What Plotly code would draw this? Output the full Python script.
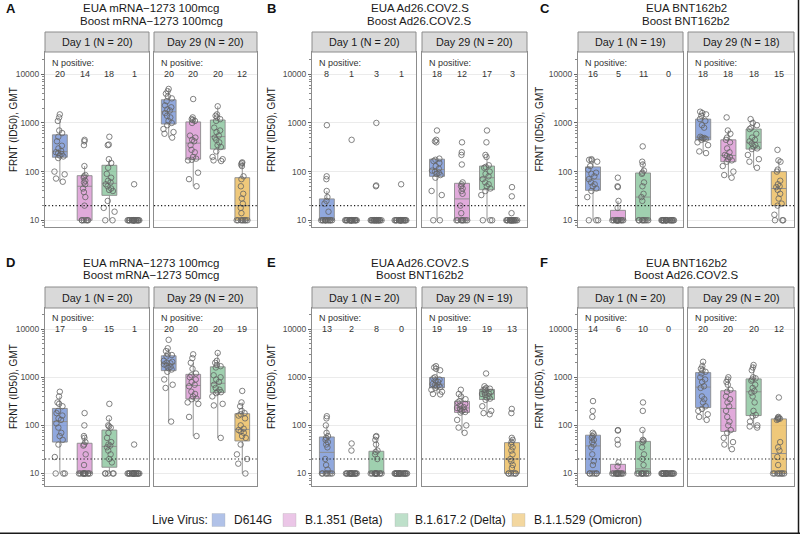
import plotly.graph_objects as go

# titers, one list of 4 (virus order) per facet
viruses = ["D614G", "B.1.351 (Beta)", "B.1.617.2 (Delta)", "B.1.1.529 (Omicron)"]
virus_fill = ["rgba(70,110,200,0.6)", "rgba(200,100,190,0.55)",
              "rgba(80,170,110,0.55)", "rgba(230,170,50,0.65)"]
legend_fill = ["rgba(70,110,200,0.42)", "rgba(200,100,190,0.37)",
               "rgba(80,170,110,0.37)", "rgba(230,170,50,0.47)"]

panel_letters = ["A", "B", "C", "D", "E", "F"]
eua_titles = ["EUA mRNA−1273 100mcg", "EUA Ad26.COV2.S", "EUA BNT162b2",
              "EUA mRNA−1273 100mcg", "EUA Ad26.COV2.S", "EUA BNT162b2"]
boost_titles = ["Boost mRNA−1273 100mcg", "Boost Ad26.COV2.S", "Boost BNT162b2",
                "Boost mRNA−1273 50mcg", "Boost BNT162b2", "Boost Ad26.COV2.S"]
n_day1 = [20, 20, 19, 20, 20, 20]
n_day29 = [20, 20, 18, 20, 19, 20]
npos_day1 = [[20, 14, 18, 1], [8, 1, 3, 1], [16, 5, 11, 0],
             [17, 9, 15, 1], [13, 2, 8, 0], [14, 6, 10, 0]]
npos_day29 = [[20, 20, 20, 12], [18, 12, 17, 3], [18, 18, 18, 15],
              [20, 20, 20, 19], [19, 19, 19, 13], [20, 20, 20, 12]]

a_day1 = [
    [62, 72, 88, 100, 190, 205, 215, 230, 240, 250, 265, 300, 340, 420, 520, 620, 700, 1100, 1300, 1500],
    [10, 10, 10, 10, 10, 10, 20, 30, 38, 45, 55, 60, 65, 75, 80, 85, 130, 350, 420, 450],
    [10, 10, 15, 18, 25, 40, 42, 45, 50, 55, 60, 65, 75, 90, 120, 150, 180, 350, 360, 520],
    [10, 10, 10, 10, 10, 10, 10, 10, 10, 10, 10, 10, 10, 10, 10, 10, 10, 10, 10, 55],
]
a_day29 = [
    [500, 600, 650, 750, 900, 1000, 1100, 1300, 1400, 1600, 1800, 1900, 2100, 2300, 2800, 3200, 3500, 4000, 4500, 5000],
    [50, 70, 95, 170, 175, 185, 200, 250, 280, 350, 420, 450, 500, 550, 1000, 1100, 1150, 1200, 1300, 3100],
    [165, 170, 180, 200, 260, 320, 350, 400, 450, 500, 550, 650, 700, 800, 1100, 1200, 1300, 1400, 1500, 2200],
    [10, 10, 10, 10, 10, 10, 10, 10, 14, 18, 22, 28, 35, 50, 70, 80, 130, 140, 150, 155],
]
b_day1 = [
    [10, 10, 10, 10, 10, 10, 10, 10, 10, 10, 10, 10, 15, 22, 25, 30, 40, 70, 80, 900],
    [10, 10, 10, 10, 10, 10, 10, 10, 10, 10, 10, 10, 10, 10, 10, 10, 10, 10, 10, 450],
    [10, 10, 10, 10, 10, 10, 10, 10, 10, 10, 10, 10, 10, 10, 10, 10, 10, 50, 52, 1000],
    [10, 10, 10, 10, 10, 10, 10, 10, 10, 10, 10, 10, 10, 10, 10, 10, 10, 10, 10, 55],
]
b_day29 = [
    [10, 10, 33, 40, 75, 85, 90, 95, 100, 105, 115, 130, 150, 165, 175, 185, 400, 420, 450, 700],
    [10, 10, 10, 10, 10, 10, 10, 10, 14, 20, 35, 40, 45, 50, 55, 60, 140, 220, 250, 400],
    [10, 10, 10, 33, 40, 45, 50, 55, 60, 70, 80, 90, 100, 120, 125, 135, 200, 220, 400, 700],
    [10, 10, 10, 10, 10, 10, 10, 10, 10, 10, 10, 10, 10, 10, 10, 10, 10, 14, 31, 48],
]
c_day1 = [
    [10, 10, 10, 30, 40, 45, 50, 55, 60, 70, 80, 90, 95, 110, 130, 160, 170, 175, 180],
    [10, 10, 10, 10, 10, 10, 10, 10, 10, 10, 10, 10, 10, 10, 18, 25, 48, 50, 75],
    [10, 10, 10, 10, 10, 10, 10, 10, 25, 30, 35, 50, 60, 90, 95, 105, 140, 160, 330],
    [10, 10, 10, 10, 10, 10, 10, 10, 10, 10, 10, 10, 10, 10, 10, 10, 10, 10, 10],
]
c_day29 = [
    [240, 260, 350, 400, 450, 470, 480, 490, 500, 520, 800, 900, 1100, 1200, 1400, 1500, 1600, 1700],
    [75, 85, 100, 130, 160, 170, 180, 200, 210, 220, 250, 300, 400, 450, 500, 600, 700, 1300],
    [120, 160, 180, 220, 290, 300, 330, 350, 380, 420, 450, 500, 600, 750, 800, 900, 1000, 1200],
    [10, 10, 10, 13, 20, 22, 28, 35, 42, 48, 50, 55, 65, 100, 110, 160, 170, 280],
]
d_day1 = [
    [10, 10, 10, 22, 40, 50, 60, 70, 90, 110, 130, 140, 160, 180, 200, 250, 280, 300, 400, 500],
    [10, 10, 10, 10, 10, 10, 10, 10, 10, 10, 10, 15, 25, 38, 40, 45, 55, 60, 100, 180],
    [10, 10, 10, 10, 10, 17, 20, 25, 30, 35, 38, 40, 45, 55, 70, 90, 95, 100, 140, 280],
    [10, 10, 10, 10, 10, 10, 10, 10, 10, 10, 10, 10, 10, 10, 10, 10, 10, 10, 10, 40],
]
d_day29 = [
    [120, 600, 700, 900, 1300, 1450, 1550, 1650, 1750, 1850, 1950, 2000, 2100, 2200, 2700, 2900, 3000, 3500, 4000, 6000],
    [60, 150, 280, 300, 350, 360, 400, 450, 500, 650, 700, 800, 900, 1000, 1100, 1200, 1500, 2000, 2500, 3000],
    [55, 260, 280, 400, 470, 490, 500, 550, 600, 700, 800, 900, 1000, 1100, 1600, 1700, 1800, 2000, 2200, 3200],
    [10, 16, 20, 25, 40, 55, 60, 70, 75, 80, 85, 100, 140, 160, 170, 180, 200, 250, 300, 520],
]
e_day1 = [
    [10, 10, 10, 10, 10, 10, 10, 12, 15, 20, 35, 40, 45, 50, 55, 60, 70, 100, 140, 155],
    [10, 10, 10, 10, 10, 10, 10, 10, 10, 10, 10, 10, 10, 10, 10, 10, 10, 10, 30, 42],
    [10, 10, 10, 10, 10, 10, 10, 10, 10, 10, 10, 10, 20, 25, 28, 30, 40, 50, 58, 60],
    [10, 10, 10, 10, 10, 10, 10, 10, 10, 10, 10, 10, 10, 10, 10, 10, 10, 10, 10, 10],
]
e_day29 = [
    [440, 450, 500, 550, 600, 620, 650, 680, 700, 720, 800, 850, 900, 950, 1000, 1400, 1500, 1600, 1700],
    [70, 90, 100, 130, 185, 190, 200, 210, 220, 230, 240, 260, 280, 300, 320, 350, 400, 450, 550],
    [170, 180, 200, 250, 340, 360, 380, 400, 430, 450, 460, 480, 500, 550, 560, 580, 600, 650, 1200],
    [10, 10, 10, 10, 10, 10, 13, 15, 18, 20, 25, 30, 35, 40, 45, 50, 55, 180, 220],
]
f_day1 = [
    [10, 10, 10, 10, 10, 10, 15, 18, 25, 35, 40, 45, 50, 55, 60, 65, 70, 150, 200, 320],
    [10, 10, 10, 10, 10, 10, 10, 10, 10, 10, 10, 10, 10, 10, 14, 17, 40, 50, 78, 80],
    [10, 10, 10, 10, 10, 10, 10, 10, 10, 10, 15, 20, 25, 35, 45, 48, 50, 80, 200, 300],
    [10, 10, 10, 10, 10, 10, 10, 10, 10, 10, 10, 10, 10, 10, 10, 10, 10, 10, 10, 10],
]
f_day29 = [
    [130, 150, 170, 200, 220, 250, 300, 350, 400, 600, 650, 800, 900, 1000, 1200, 1300, 1400, 1500, 1700, 2100],
    [32, 40, 45, 55, 70, 80, 100, 120, 150, 200, 250, 300, 350, 400, 500, 550, 700, 800, 900, 1000],
    [90, 95, 100, 120, 155, 165, 200, 300, 400, 480, 520, 600, 700, 850, 900, 950, 1000, 1400, 1600, 1800],
    [10, 10, 10, 10, 10, 10, 10, 10, 15, 22, 30, 35, 45, 130, 135, 138, 140, 145, 150, 380],
]

facet_data = [a_day1, a_day29, b_day1, b_day29, c_day1, c_day29,
              d_day1, d_day29, e_day1, e_day29, f_day1, f_day29]

# ---- layout geometry (pixels) ----
W, H = 800, 534
FONT = "Liberation Sans, Arial, sans-serif"


def px(x):
    return x / W


def py(y):
    return 1 - y / H


col_px = [(45, 149, 154, 257), (312, 416, 422, 527), (578, 683, 688, 794)]
row_px = [(32, 52, 227), (287, 308, 486)]  # strip top, panel top, panel bottom
row_range = [[0.862, 4.458], [0.74, 4.44]]
ytitle_x = [13.5, 271.5, 539]
letter_x = [4, 265, 538]
title_y = [(8.5, 20.5), (263, 275)]
letter_y = [8, 262]

minor_vals = [m * 10 ** e for e in range(0, 5) for m in range(2, 10)]

fig = go.Figure()
layout = {}
shapes = []
annotations = []

for p in range(6):
    r, c = p // 3, p % 3
    strip_top, panel_top, panel_bot = row_px[r]
    for d in range(2):
        k = p * 2 + d
        n = k + 1
        xs = "" if n == 1 else str(n)
        x0, x1 = col_px[c][2 * d], col_px[c][2 * d + 1]

        for j, vals in enumerate(facet_data[k]):
            fig.add_trace(go.Box(
                x=[viruses[j]] * len(vals), y=vals,
                xaxis="x" + xs, yaxis="y" + xs,
                boxpoints="all", jitter=0.9, pointpos=0, width=0.6,
                whiskerwidth=0, fillcolor=virus_fill[j],
                line=dict(color="rgba(140,140,140,0.9)", width=1),
                marker=dict(symbol="circle-open", size=5.5,
                            color="rgba(100,100,100,0.8)", line=dict(width=1)),
                showlegend=False, hoverinfo="y",
            ))

        left = d == 0
        layout["xaxis" + xs] = dict(
            domain=[px(x0), px(x1)], anchor="y" + xs, type="category",
            categoryorder="array", categoryarray=viruses, range=[-0.6, 3.6],
            showticklabels=False, ticks="", showgrid=False, zeroline=False,
            showline=True, mirror=True, linecolor="#8c8c8c", linewidth=1,
        )
        layout["yaxis" + xs] = dict(
            domain=[py(panel_bot), py(panel_top)], anchor="x" + xs, type="log",
            range=row_range[r], tickmode="array",
            tickvals=[10, 100, 1000, 10000], ticktext=["10", "100", "1000", "10000"],
            showticklabels=left, ticks="outside" if left else "", ticklen=3,
            tickcolor="#666666", tickfont=dict(size=8.5, color="#4d4d4d"),
            showgrid=True, gridcolor="#ebebeb", gridwidth=1, zeroline=False,
            showline=True, mirror=True, linecolor="#8c8c8c", linewidth=1,
            minor=dict(tickmode="array", tickvals=minor_vals,
                       ticks="outside" if left else "", ticklen=2,
                       tickcolor="#888888", showgrid=False),
        )

        # strip
        shapes.append(dict(type="rect", xref="paper", yref="paper",
                           x0=px(x0), x1=px(x1), y0=py(panel_top), y1=py(strip_top),
                           fillcolor="#d9d9d9", line=dict(color="#8c8c8c", width=1),
                           layer="above"))
        n_tot = n_day1[p] if d == 0 else n_day29[p]
        day = "Day 1" if d == 0 else "Day 29"
        annotations.append(dict(
            text=f"{day} (N = {n_tot})", xref="paper", yref="paper",
            x=px((x0 + x1) / 2), y=py((strip_top + panel_top) / 2),
            xanchor="center", yanchor="middle", showarrow=False,
            font=dict(size=10.8, color="#1a1a1a")))

        # LOD dotted line
        shapes.append(dict(type="line", xref="x" + xs + " domain", yref="y" + xs,
                           x0=0, x1=1, y0=20, y1=20,
                           line=dict(color="#1a1a1a", width=1.1, dash="1.2px,2.3px")))

        # N positive labels
        annotations.append(dict(
            text="N positive:", xref="x" + xs, yref="y" + xs, x=-0.4, y=4.226,
            xanchor="left", yanchor="middle", showarrow=False,
            font=dict(size=9, color="#333333")))
        counts = npos_day1[p] if d == 0 else npos_day29[p]
        for j, cnt in enumerate(counts):
            annotations.append(dict(
                text=str(cnt), xref="x" + xs, yref="y" + xs, x=j, y=4.0,
                xanchor="center", yanchor="middle", showarrow=False,
                font=dict(size=9, color="#333333")))

    # panel title, letter, y title
    cx = (col_px[c][0] + col_px[c][3]) / 2
    annotations.append(dict(text=eua_titles[p], xref="paper", yref="paper",
                            x=px(cx), y=py(title_y[r][0]), xanchor="center",
                            yanchor="middle", showarrow=False,
                            font=dict(size=11.5, color="#1a1a1a")))
    annotations.append(dict(text=boost_titles[p], xref="paper", yref="paper",
                            x=px(cx), y=py(title_y[r][1]), xanchor="center",
                            yanchor="middle", showarrow=False,
                            font=dict(size=11.5, color="#1a1a1a")))
    annotations.append(dict(text="<b>" + panel_letters[p] + "</b>", xref="paper",
                            yref="paper", x=px(letter_x[c]), y=py(letter_y[r]),
                            xanchor="left", yanchor="middle", showarrow=False,
                            font=dict(size=13, color="#111111")))
    annotations.append(dict(text="FRNT (ID50), GMT", xref="paper", yref="paper",
                            x=px(ytitle_x[c]), y=py((strip_top + panel_bot) / 2),
                            xanchor="center", yanchor="middle", textangle=-90,
                            showarrow=False, font=dict(size=10, color="#1a1a1a")))

# legend drawn by hand
annotations.append(dict(text="Live Virus:", xref="paper", yref="paper",
                        x=px(210), y=py(520), xanchor="right", yanchor="middle",
                        showarrow=False, font=dict(size=12, color="#1a1a1a")))
swatch_x = [212, 283, 395, 512]
label_x = [232, 303, 413, 532]
for j, name in enumerate(viruses):
    shapes.append(dict(type="rect", xref="paper", yref="paper",
                       x0=px(swatch_x[j]), x1=px(swatch_x[j] + 13),
                       y0=py(526.5), y1=py(513.5), fillcolor=legend_fill[j],
                       line=dict(color="rgba(170,170,170,0.6)", width=0.5)))
    annotations.append(dict(text=name, xref="paper", yref="paper",
                            x=px(label_x[j]), y=py(520), xanchor="left",
                            yanchor="middle", showarrow=False,
                            font=dict(size=12, color="#1a1a1a")))

# dark frame edges of the original screenshot
shapes.append(dict(type="line", xref="paper", yref="paper", x0=0, x1=1,
                   y0=py(533.3), y1=py(533.3), line=dict(color="#1a1a1a", width=1.5)))
shapes.append(dict(type="line", xref="paper", yref="paper", x0=px(798.5), x1=px(798.5),
                   y0=0, y1=1, line=dict(color="#1a1a1a", width=1.5)))

fig.update_layout(
    **layout,
    shapes=shapes, annotations=annotations,
    boxmode="overlay",
    width=W, height=H, autosize=False,
    margin=dict(l=0, r=0, t=0, b=0),
    paper_bgcolor="white", plot_bgcolor="white",
    font=dict(family=FONT, color="#1a1a1a"),
    showlegend=False,
)

# drop the page's default body margin so the figure sits at the window origin
fig.write_html("out.html", config={"displayModeBar": False},
               post_script="document.body.style.margin = '0';")
